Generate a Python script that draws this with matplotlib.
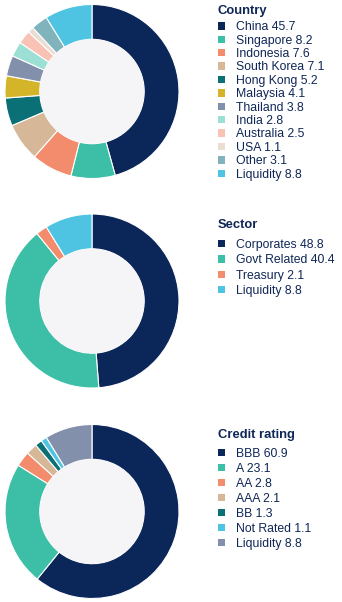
import matplotlib
matplotlib.use("Agg")
import matplotlib.pyplot as plt
from matplotlib.patches import Circle, Patch

# ---- data ----
country_labels = ["China", "Singapore", "Indonesia", "South Korea", "Hong Kong", "Malaysia",
                  "Thailand", "India", "Australia", "USA", "Other", "Liquidity"]
country_values = [45.7, 8.2, 7.6, 7.1, 5.2, 4.1, 3.8, 2.8, 2.5, 1.1, 3.1, 8.8]
country_colors = ["#0b2659", "#3cbfa6", "#f38b6d", "#d6b899", "#0b7075", "#d4b52a",
                  "#8390ab", "#9cdfd4", "#f8c2b5", "#eaddd2", "#80b3bc", "#4ec4e2"]

sector_labels = ["Corporates", "Govt Related", "Treasury", "Liquidity"]
sector_values = [48.8, 40.4, 2.1, 8.8]
sector_colors = ["#0b2659", "#3cbfa6", "#f38b6d", "#4ec4e2"]

rating_labels = ["BBB", "A", "AA", "AAA", "BB", "Not Rated", "Liquidity"]
rating_values = [60.9, 23.1, 2.8, 2.1, 1.3, 1.1, 8.8]
rating_colors = ["#0b2659", "#3cbfa6", "#f38b6d", "#d6b899", "#0b7075", "#4ec4e2", "#8390ab"]

titles = ["Country", "Sector", "Credit rating"]

W, H = 342, 602
fig = plt.figure(figsize=(W / 100, H / 100), dpi=100)
fig.patch.set_facecolor("white")

FONT = "Liberation Sans"
TEXT_COLOR = "#0f2656"
FS = 8.8

def fmt(v):
    return f"{v:g}"

def donut(cy, labels, values, colors, title, leg_top, spacing, title_extra):
    cx, r = 92.0, 87.0
    ax = fig.add_axes([(cx - r) / W, (H - cy - r) / H, 2 * r / W, 2 * r / H])
    ax.pie(values, colors=colors, startangle=90, counterclock=False, radius=1.0,
           wedgeprops=dict(width=0.4, edgecolor="white", linewidth=0.8))
    ax.add_patch(Circle((0, 0), 0.6, facecolor="#f5f5f7", edgecolor="none", zorder=5))
    ax.set_xlim(-1.0, 1.0)
    ax.set_ylim(-1.0, 1.0)
    ax.set_aspect("equal")
    ax.axis("off")
    handles = [Patch(facecolor=c, edgecolor="none") for c in colors]
    leg_labels = [f"{l} {fmt(v)}" for l, v in zip(labels, values)]
    leg = fig.legend(handles, leg_labels, loc="upper left",
                     bbox_to_anchor=(218 / W, 1 - leg_top / H),
                     bbox_transform=fig.transFigure,
                     frameon=False, title=title, alignment="left",
                     handlelength=0.55, handleheight=0.55, handletextpad=0.9,
                     labelspacing=spacing, borderaxespad=0, borderpad=0,
                     prop={"family": FONT, "size": FS},
                     title_fontproperties={"family": FONT, "size": 9.4, "weight": "bold"})
    leg._legend_box.sep = spacing * FS + title_extra
    leg.get_title().set_color(TEXT_COLOR)
    for t in leg.get_texts():
        t.set_color(TEXT_COLOR)
    return leg

donut(91.5, country_labels, country_values, country_colors, titles[0], 5, 0.115, 2.0)
donut(301, sector_labels, sector_values, sector_colors, titles[1], 219, 0.28, 3.2)
donut(511.5, rating_labels, rating_values, rating_colors, titles[2], 429, 0.24, 2.9)

fig.savefig("out.png", dpi=100)
